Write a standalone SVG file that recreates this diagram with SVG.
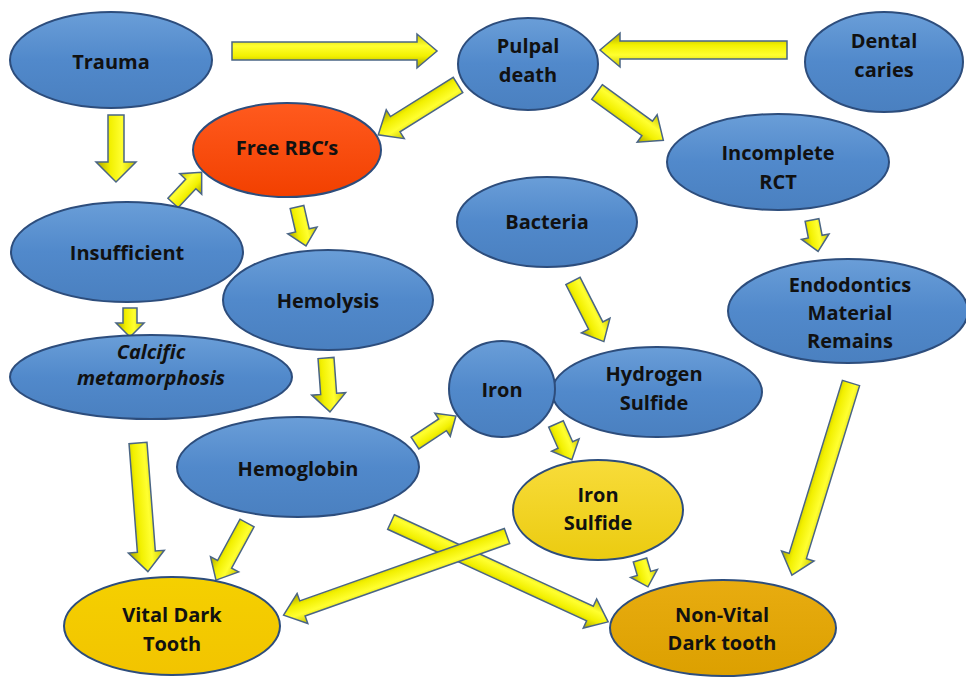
<svg xmlns="http://www.w3.org/2000/svg" width="966" height="677" viewBox="0 0 966 677">
<style>
.blue{fill:url(#gBlue);stroke:#2D4D7C;stroke-width:2}
.red{fill:url(#gRed);stroke:#2D4D7C;stroke-width:2}
.yel{fill:url(#gYel);stroke:#2D4D7C;stroke-width:2}
.gold{fill:url(#gGold);stroke:#2D4D7C;stroke-width:2}
.arr{fill:url(#gArr);stroke:#4A6585;stroke-width:1.5;stroke-linejoin:miter}
text{font-family:"Open Sans","Liberation Sans",sans-serif;font-weight:bold;font-size:20px;fill:#111;text-anchor:middle}
.it{font-style:italic}
</style>
<defs>
<linearGradient id="gBlue" x1="0" y1="0" x2="0" y2="1">
<stop offset="0" stop-color="#6A9ED8"/><stop offset="0.5" stop-color="#5189CB"/><stop offset="1" stop-color="#4A80C0"/>
</linearGradient>
<linearGradient id="gRed" x1="0" y1="0" x2="0" y2="1">
<stop offset="0" stop-color="#FF5A1E"/><stop offset="1" stop-color="#F24000"/>
</linearGradient>
<linearGradient id="gYel" x1="0" y1="0" x2="0" y2="1">
<stop offset="0" stop-color="#F8DC3A"/><stop offset="1" stop-color="#EBCB10"/>
</linearGradient>
<linearGradient id="gGold" x1="0" y1="0" x2="0" y2="1">
<stop offset="0" stop-color="#F5D000"/><stop offset="1" stop-color="#F2C400"/>
</linearGradient>
<linearGradient id="gArr" x1="0" y1="0" x2="0" y2="1">
<stop offset="0" stop-color="#C9C400"/><stop offset="0.35" stop-color="#FFFF30"/><stop offset="0.65" stop-color="#F2F000"/><stop offset="1" stop-color="#A8A200"/>
</linearGradient>
<linearGradient id="gNon" x1="0" y1="0" x2="0" y2="1">
<stop offset="0" stop-color="#E8AC10"/><stop offset="1" stop-color="#DCA000"/>
</linearGradient>
</defs>

<g id="connectors">
<path class="arr" transform="translate(232,51) rotate(0)" d="M0,-9 H185 V-17 L205,0 L185,17 V9 H0 Z"/>
<path class="arr" transform="translate(787,50) rotate(180)" d="M0,-9 H167 V-17 L187,0 L167,17 V9 H0 Z"/>
<path class="arr" transform="translate(458,85) rotate(148)" d="M0,-9 H74 V-17 L94,0 L74,17 V9 H0 Z"/>
<path class="arr" transform="translate(597,92) rotate(36)" d="M0,-9 H62 V-17 L82,0 L62,17 V9 H0 Z"/>
<path class="arr" transform="translate(116,115) rotate(90)" d="M0,-8 H47 V-20 L67,0 L47,20 V8 H0 Z"/>
<path class="arr" transform="translate(173,203) rotate(-47)" d="M0,-7 H26 V-15 L42,0 L26,15 V7 H0 Z"/>
<path class="arr" transform="translate(297,207) rotate(77)" d="M0,-7 H24 V-15 L40,0 L24,15 V7 H0 Z"/>
<path class="arr" transform="translate(130,308) rotate(90)" d="M0,-7 H15 V-14 L29,0 L15,14 V7 H0 Z"/>
<path class="arr" transform="translate(326,358) rotate(85.8)" d="M0,-8 H36 V-17 L54,0 L36,17 V8 H0 Z"/>
<path class="arr" transform="translate(138,443) rotate(85.6)" d="M0,-9 H109 V-18 L129,0 L109,18 V9 H0 Z"/>
<path class="arr" transform="translate(247,523) rotate(118.5)" d="M0,-8 H47 V-16 L65,0 L47,16 V8 H0 Z"/>
<path class="arr" transform="translate(415,443) rotate(-33.4)" d="M0,-7 H33 V-14 L49,0 L33,14 V7 H0 Z"/>
<path class="arr" transform="translate(573,281) rotate(63)" d="M0,-8 H50 V-16 L68,0 L50,16 V8 H0 Z"/>
<path class="arr" transform="translate(556,424) rotate(66)" d="M0,-8 H23 V-15 L39,0 L23,15 V8 H0 Z"/>
<path class="arr" transform="translate(391,522) rotate(24.7)" d="M0,-8 H219 V-16 L239,0 L219,16 V8 H0 Z"/>
<path class="arr" transform="translate(507,536) rotate(160.5)" d="M0,-8 H217 V-16 L237,0 L217,16 V8 H0 Z"/>
<path class="arr" transform="translate(640,560) rotate(73.5)" d="M0,-7 H14 V-14 L28,0 L14,14 V7 H0 Z"/>
<path class="arr" transform="translate(812,220) rotate(79)" d="M0,-7 H17 V-14 L32,0 L17,14 V7 H0 Z"/>
<path class="arr" transform="translate(851,383) rotate(107.1)" d="M0,-9 H181 V-17 L201,0 L181,17 V9 H0 Z"/>
</g>

<g id="trauma"><ellipse class="blue" cx="111" cy="60" rx="101" ry="48"/><text x="111" y="69">Trauma</text></g>
<g id="pulpal-death"><ellipse class="blue" cx="528" cy="64" rx="70" ry="46"/><text x="528" y="53">Pulpal</text><text x="528" y="82">death</text></g>
<g id="dental-caries"><ellipse class="blue" cx="884" cy="62" rx="79" ry="50"/><text x="884" y="48">Dental</text><text x="884" y="77">caries</text></g>
<g id="free-rbc"><ellipse class="red" cx="287" cy="150" rx="94" ry="47"/><text x="287" y="155">Free RBC’s</text></g>
<g id="incomplete-rct"><ellipse class="blue" cx="778" cy="162" rx="111" ry="48"/><text x="778" y="160">Incomplete</text><text x="778" y="189">RCT</text></g>
<g id="bacteria"><ellipse class="blue" cx="547" cy="222" rx="90" ry="45"/><text x="547" y="229">Bacteria</text></g>
<g id="insufficient"><ellipse class="blue" cx="127" cy="252" rx="116" ry="50"/><text x="127" y="260">Insufficient</text></g>
<g id="hemolysis"><ellipse class="blue" cx="328" cy="300" rx="105" ry="50"/><text x="328" y="308">Hemolysis</text></g>
<g id="endodontics"><ellipse class="blue" cx="848" cy="311" rx="120" ry="52"/><text x="850" y="292">Endodontics</text><text x="850" y="320">Material</text><text x="850" y="348">Remains</text></g>
<g id="calcific"><ellipse class="blue" cx="151" cy="377" rx="141" ry="42"/><text class="it" x="151" y="359">Calcific</text><text class="it" x="151" y="385">metamorphosis</text></g>
<g id="hydrogen-sulfide"><ellipse class="blue" cx="657" cy="392" rx="105" ry="45"/><text x="654" y="381">Hydrogen</text><text x="654" y="410">Sulfide</text></g>
<g id="iron"><ellipse class="blue" cx="502" cy="389" rx="53" ry="48"/><text x="502" y="397">Iron</text></g>
<g id="hemoglobin"><ellipse class="blue" cx="298" cy="467" rx="121" ry="50"/><text x="298" y="476">Hemoglobin</text></g>
<g id="iron-sulfide"><ellipse class="yel" cx="598" cy="510" rx="85" ry="50"/><text x="598" y="502">Iron</text><text x="598" y="530">Sulfide</text></g>
<g id="vital-dark-tooth"><ellipse class="gold" cx="172" cy="626" rx="108" ry="49"/><text x="172" y="622">Vital Dark</text><text x="172" y="651">Tooth</text></g>
<g id="non-vital-dark-tooth"><ellipse style="fill:url(#gNon);stroke:#2D4D7C;stroke-width:2" cx="723" cy="628" rx="113" ry="48"/><text x="722" y="622">Non-Vital</text><text x="722" y="650">Dark tooth</text></g>
</svg>
